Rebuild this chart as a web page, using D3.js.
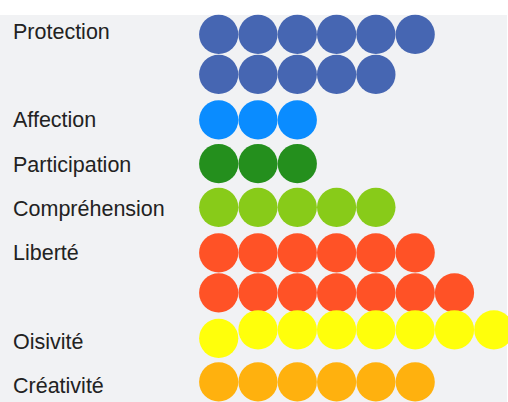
<!DOCTYPE html>
<html>
<head>
<meta charset="utf-8">
<script src="https://cdn.jsdelivr.net/npm/d3@7/dist/d3.min.js"></script>
<style>
  html, body { margin: 0; padding: 0; background: #ffffff; }
  svg { display: block; }
</style>
</head>
<body>
<svg id="chart" width="508" height="402"></svg>
<script>
// ---- data ----
const categories = ["Protection", "Affection", "Participation", "Compréhension", "Liberté", "Oisivité", "Créativité"];
const counts = [11, 3, 3, 5, 13, 8, 6];
// how the dots of each category are split into rows, as seen in the picture
const rowSplits = [[6, 5], [3], [3], [5], [6, 7], [8], [6]];
const colors = ["#4666b2", "#0a8cff", "#248f1d", "#88cb19", "#ff5226", "#ffff0b", "#ffb10e"];

// ---- layout ----
const W = 508, H = 402;
const svg = d3.select("#chart");

svg.append("rect")
  .attr("x", 0).attr("y", 15)
  .attr("width", 507).attr("height", H - 15)
  .attr("fill", "#f1f2f4");

const totalUnits = d3.sum(rowSplits, r => r.length);
const yUnits = d3.scaleLinear().domain([0, totalUnits]).range([10.8, 403.8]);
const yLabel = d3.scaleLinear().domain([0, totalUnits]).range([38.6, 437.4]);
const x = d3.scaleLinear().domain([0, 7]).range([218.7, 493.8]);
const r = 19.6;
const rowGap = 40;

// Oisivité: all dots after the first sit a little higher in the picture
const lift = { "Oisivité": { from: 1, dy: -8.5 } };

let unit = 0;
const dots = [];
const labels = [];
categories.forEach((cat, ci) => {
  const rows = rowSplits[ci];
  const center = yUnits(unit + rows.length / 2);
  const firstRowY = center - (rows.length - 1) / 2 * rowGap;
  labels.push({ cat, y: yLabel(unit) });
  let k = 0;
  rows.forEach((n, ri) => {
    for (let i = 0; i < n; i++) {
      let yy = firstRowY + ri * rowGap;
      if (lift[cat] && k >= lift[cat].from) yy += lift[cat].dy;
      dots.push({ cat, ci, col: i, y: yy });
      k++;
    }
  });
  unit += rows.length;
});

svg.append("g").selectAll("circle")
  .data(dots)
  .join("circle")
  .attr("cx", d => x(d.col))
  .attr("cy", d => d.y)
  .attr("r", r)
  .attr("fill", d => colors[d.ci]);

svg.append("g").selectAll("text")
  .data(labels)
  .join("text")
  .attr("x", 13)
  .attr("y", d => d.y)
  .attr("font-family", "'Liberation Sans', Arial, Helvetica, sans-serif")
  .attr("font-size", "21.5px")
  .attr("fill", "#222")
  .text(d => d.cat);
</script>
</body>
</html>
